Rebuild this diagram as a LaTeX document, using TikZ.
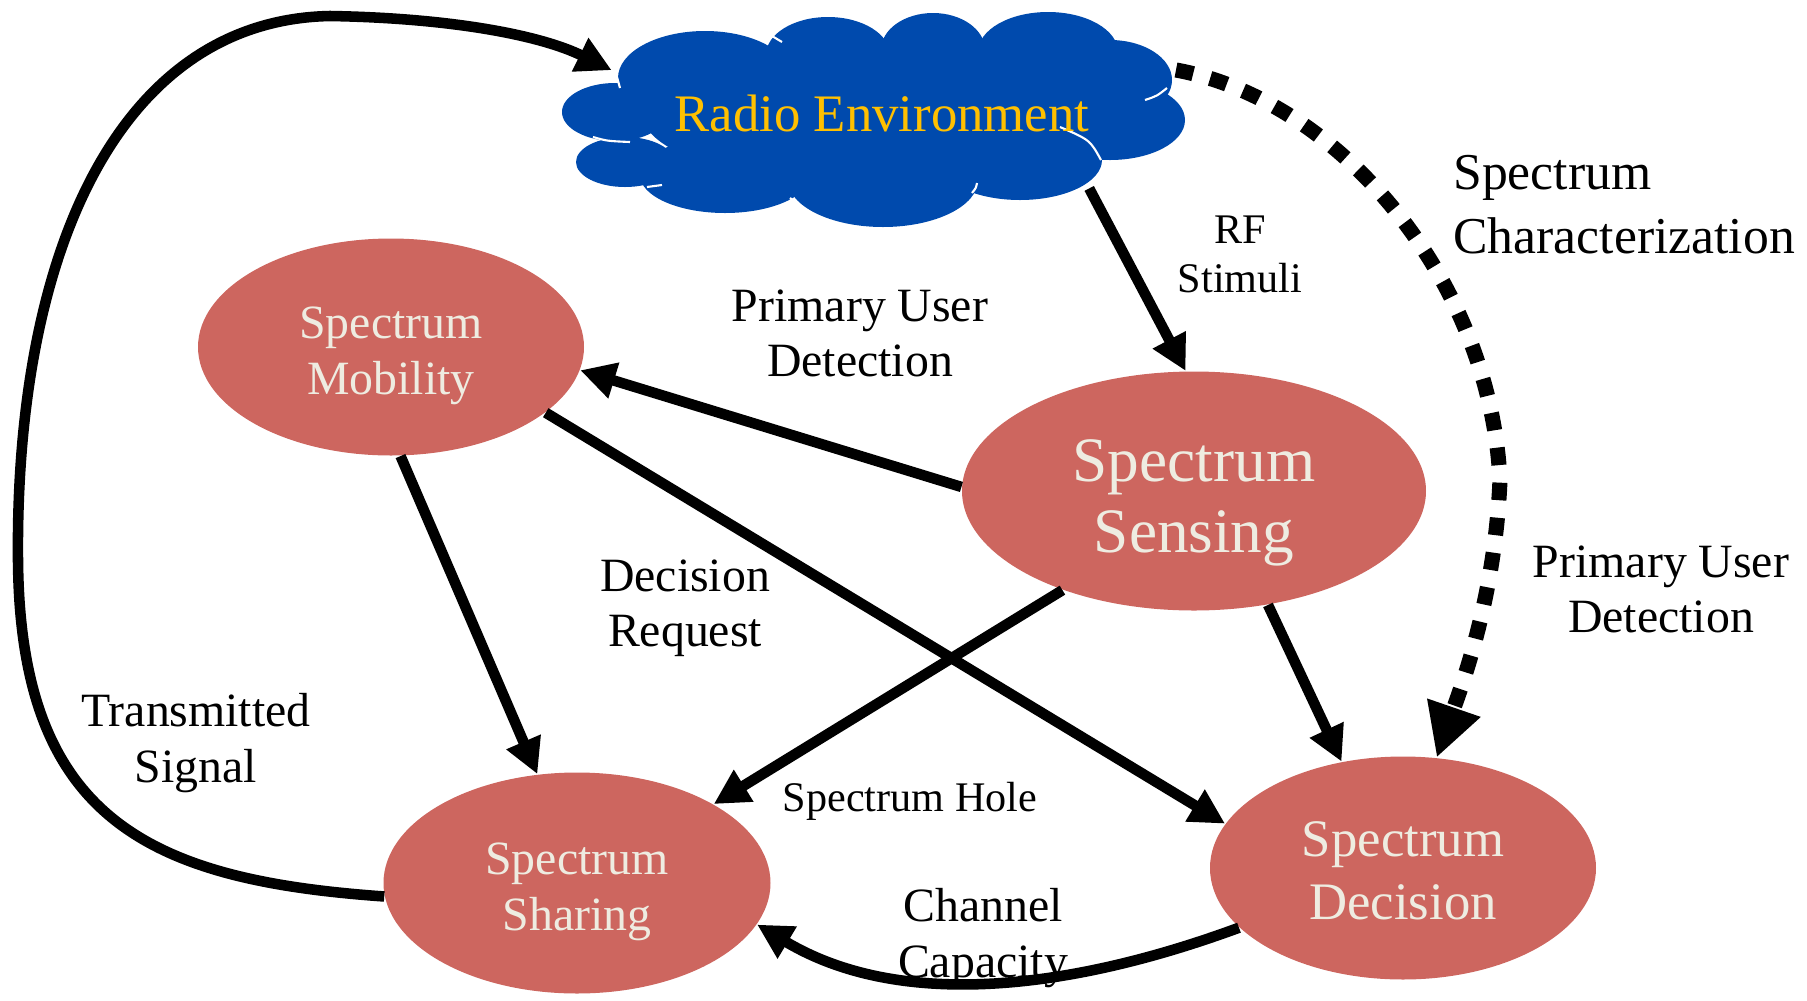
\documentclass[tikz,border=0pt]{standalone}
\usepackage{fontspec}
\setmainfont{Liberation Serif}
\usetikzlibrary{shapes.geometric}
\usetikzlibrary{arrows.meta}
\definecolor{cloudblue}{RGB}{0,74,173}
\definecolor{radiogold}{RGB}{255,192,0}
\definecolor{blobred}{RGB}{205,102,95}
\definecolor{blobtext}{RGB}{238,236,225}
\newcommand{\tallline}[1][1.03em]{\rule{0pt}{#1}}
\tikzset{
  blob/.style={ellipse, fill=blobred, text=blobtext, inner sep=0pt, align=center},
  conn/.style={line width=3pt, -{Triangle[length=10pt,width=10pt]}},
  dotconn/.style={line width=4.3pt, dash pattern=on 5pt off 5pt, -{Triangle[length=15pt,width=15pt]}},
  lbl/.style={align=center, font=\fontsize{13.6}{15.7}\selectfont},
  seam/.style={white, line width=0.6pt}
}

\begin{document}
\begin{tikzpicture}[x=0.1mm, y=-0.1mm]
  \useasboundingbox (0,0) rectangle (1807,1000);

  % the cloud, puff by puff
  \foreach \cx/\cy/\rx/\ry in {615/112/53/29, 625/162/49/25, 705/78/87/47, 828/55/62/38,
      933/50/52/37, 1048/52/70/40, 1110/80/62/40, 1110/120/75/40, 1020/160/82/40,
      883/180/95/47, 725/175/85/38, 873/115/230/70}
    \fill [cloudblue] (\cx,\cy) ellipse [x radius=\rx, y radius=\ry];
  \draw [seam] (593,137) .. controls (607,141) .. (630,142);
  \draw [seam] (1060,127) .. controls (1090,140) .. (1101,160);
  \draw [seam] (1145,100) .. controls (1157,96) .. (1167,88);
  \draw [seam] (767,33) .. controls (775,37) .. (782,42);
  \draw [seam] (647,187) .. controls (655,186) .. (662,185);
  \draw [seam] (790,198) .. controls (794,202) .. (798,205);
  \draw [seam] (882,32) .. controls (885,28) .. (890,25);
  \draw [seam] (982,28) .. controls (986,25) .. (992,22);
  \draw [seam] (977,183) .. controls (976,188) .. (972,193);
  \draw [seam] (617,77) .. controls (618,82) .. (620,88);

  \node [ellipse, inner sep=0pt, minimum width=59mm, minimum height=21mm, text=radiogold,
    font=\fontsize{15}{18}\selectfont] (cloud) at (882,113) {Radio Environment};
  \coordinate (cloudout) at (1176,70);

  \node [blob, minimum width=38.6mm, minimum height=21.7mm, font=\fontsize{13.6}{15.7}\selectfont]
    (mob) at (391,347) {\tallline Spectrum\\Mobility};
  \node [blob, minimum width=46.4mm, minimum height=23.9mm, font=\fontsize{18}{20.3}\selectfont]
    (sens) at (1194,491) {\tallline Spectrum\\Sensing};
  \node [blob, minimum width=38.7mm, minimum height=22.1mm, font=\fontsize{13.6}{15.7}\selectfont]
    (shar) at (577,883) {\tallline Spectrum\\Sharing};
  \node [blob, minimum width=38.6mm, minimum height=22.3mm, font=\fontsize{15}{18}\selectfont]
    (dec) at (1403,868) {\tallline[0.78em]Spectrum\\Decision};

  % straight arrows
  \foreach \a/\b in {cloud.-20/sens.94, sens.179/mob.-7, mob.-23/dec.166,
                     mob.-85/shar.110, sens.-143/shar.30, sens.-57/dec.120}
    \draw [conn] (\a) -- (\b);

  % curved arrows
  \draw [conn] (dec.-160) .. controls (1070,990) and (900,1010) .. (shar.-13);
  \draw [conn] (shar.184) .. controls (150,880) and (20,820) .. (18,560)
    .. controls (15,250) and (120,20) .. (330,16)
    .. controls (450,18) and (540,35) .. (cloud.171);
  \draw [dotconn] (cloudout) .. controls (1340,100) and (1490,280) .. (1500,480)
    .. controls (1495,600) and (1460,690) .. (dec.73);

  \node [lbl, font=\fontsize{12}{14}\selectfont] (rf) at (1240,254) {RF\\Stimuli};
  \node [lbl] (pud) at (860,333) {Primary User\\Detection};
  \node [lbl] (req) at (685,608) {Decision\\Request};
  \node [lbl] (tx) at (196,743) {Transmitted\\Signal};
  \node [lbl, font=\fontsize{12}{14}\selectfont] (hole) at (910,801) {Spectrum Hole};
  \node [lbl] (cap) at (983,938) {Channel\\Capacity};
  \node [lbl, align=left, anchor=west, font=\fontsize{14.7}{18.2}\selectfont]
    (char) at (1441,205) {Spectrum\\Characterization};
  \node [lbl] (pud2) at (1661,589) {Primary User\\Detection};
\end{tikzpicture}
\end{document}
